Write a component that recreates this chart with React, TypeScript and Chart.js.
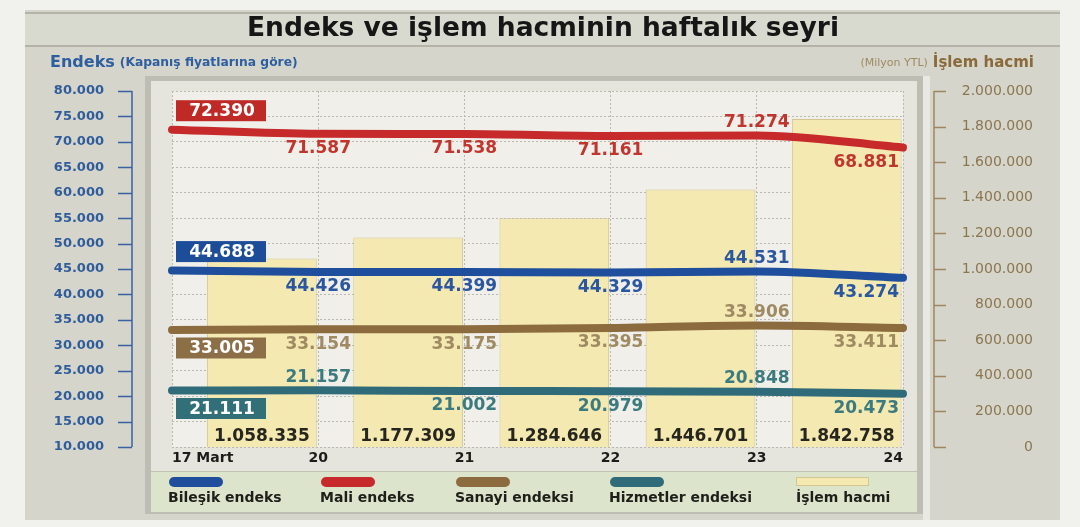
import React, { useEffect, useRef } from 'react';
import { Chart, registerables } from 'chart.js';

Chart.register(...registerables);

// ---------------- data ----------------
const weekLabels = ['17 Mart', '20', '21', '22', '23', '24'];
const bilesikEndeks = [44688, 44426, 44399, 44329, 44531, 43274];
const maliEndeks = [72390, 71587, 71538, 71161, 71274, 68881];
const sanayiEndeksi = [33005, 33154, 33175, 33395, 33906, 33411];
const hizmetlerEndeksi = [21111, 21157, 21002, 20979, 20848, 20473];
const islemHacmi = [1058335, 1177309, 1284646, 1446701, 1842758];
const endeksTicks = [10000, 80000, 5000]; // min, max, step
const hacimTicks = [0, 2000000, 200000]; // min, max, step

const seriesNames = ['Bileşik endeks', 'Mali endeks', 'Sanayi endeksi', 'Hizmetler endeksi', 'İşlem hacmi'];
const chartTitle = 'Endeks ve işlem hacminin haftalık seyri';
const leftTitle = ['Endeks', '(Kapanış fiyatlarına göre)'];
const rightTitle = ['(Milyon YTL)', 'İşlem hacmi'];

// ---------------- styles ----------------
const FONT = "'DejaVu Sans', sans-serif";
const BAR_SHIFT = 0.615;
const LEGEND_X = [168, 320, 455, 609, 796];

const lineStyles = [
  { color: '#1f4e9c', box: '#1d4d98', text: '#2b57a0', place: ['boxAbove', 'below', 'below', 'below', 'above', 'below'] },
  { color: '#c62a2a', box: '#bf2a27', text: '#c0362f', place: ['boxAbove', 'below', 'below', 'below', 'above', 'below'] },
  { color: '#8c6b3e', box: '#8d6f47', text: '#9f8a62', place: ['boxBelow', 'below', 'below', 'below', 'above', 'below'] },
  { color: '#2f6b78', box: '#316f79', text: '#3b7b80', place: ['boxBelow', 'above', 'below', 'below', 'above', 'below'] },
];
const BAR_FILL = '#f4e9b0';
const BAR_BORDER = '#d3c690';

const fmt = (n: number) => Math.round(n).toString().replace(/\B(?=(\d{3})+(?!\d))/g, '.');

const lineSeries = [bilesikEndeks, maliEndeks, sanayiEndeksi, hizmetlerEndeksi];

const backdrop = {
  id: 'backdrop',
  beforeDraw(chart: any) {
    const { ctx, width, height } = chart;
    const ca = chart.chartArea;
    ctx.save();
    ctx.fillStyle = '#f1f1ee';
    ctx.fillRect(0, 0, width, height);
    ctx.fillStyle = '#d5d5cb';
    ctx.fillRect(25, 10, 1035, 510);
    ctx.fillStyle = '#d9dacf';
    ctx.fillRect(25, 13, 1035, 33);
    ctx.strokeStyle = '#b3b3a7';
    ctx.lineWidth = 2;
    ctx.beginPath();
    ctx.moveTo(25, 13); ctx.lineTo(1060, 13);
    ctx.moveTo(25, 46); ctx.lineTo(1060, 46);
    ctx.stroke();
    // gap between inner panel and right axis panel
    ctx.fillStyle = '#e9e9e4';
    ctx.fillRect(923, 76, 7, 444);
    // inner panel frame
    ctx.fillStyle = '#bdbdb3';
    ctx.fillRect(145, 76, 778, 438);
    ctx.fillStyle = '#e5e5de';
    ctx.fillRect(151, 81, 766, 390);
    // plot area
    ctx.fillStyle = '#f0efe9';
    ctx.fillRect(ca.left, ca.top, ca.right - ca.left, ca.bottom - ca.top);
    // legend band
    ctx.fillStyle = '#dce5cb';
    ctx.fillRect(151, 472, 766, 40);
    ctx.strokeStyle = '#bfc4b2';
    ctx.lineWidth = 1;
    ctx.beginPath();
    ctx.moveTo(151, 471.5); ctx.lineTo(917, 471.5);
    ctx.stroke();

    // title
    ctx.fillStyle = '#161616';
    ctx.font = `bold 26.5px ${FONT}`;
    ctx.textAlign = 'center';
    ctx.textBaseline = 'middle';
    ctx.fillText(chartTitle, 543, 29);

    // axis titles
    ctx.textAlign = 'left';
    ctx.fillStyle = '#2d5fa0';
    ctx.font = `bold 16px ${FONT}`;
    ctx.fillText(leftTitle[0], 50, 63);
    const w0 = ctx.measureText(leftTitle[0]).width;
    ctx.font = `bold 12.3px ${FONT}`;
    ctx.fillText(leftTitle[1], 50 + w0 + 5, 63);

    ctx.textAlign = 'right';
    ctx.fillStyle = '#8a6a3a';
    ctx.font = `bold 15px ${FONT}`;
    ctx.fillText(rightTitle[1], 1034, 63);
    const w1 = ctx.measureText(rightTitle[1]).width;
    ctx.fillStyle = '#a08a60';
    ctx.font = `11px ${FONT}`;
    ctx.fillText(rightTitle[0], 1034 - w1 - 5, 63);
    ctx.restore();
  },
};

const overlay = {
  id: 'overlay',
  afterDatasetsDraw(chart: any) {
    const ctx = chart.ctx;
    ctx.save();
    ctx.textBaseline = 'middle';
    chart.data.datasets.forEach((ds: any, di: number) => {
      const meta = chart.getDatasetMeta(di);
      if (ds.type === 'line') {
        const st = lineStyles[di];
        const n = meta.data.length;
        meta.data.forEach((pt: any, i: number) => {
          const val = ds.data[i].y;
          const txt = fmt(val);
          const place = st.place[i];
          ctx.font = `bold 17px ${FONT}`;
          if (place === 'boxAbove' || place === 'boxBelow') {
            const cy = pt.y + (place === 'boxAbove' ? -19 : 18);
            const bx = pt.x + 4;
            ctx.fillStyle = st.box;
            ctx.fillRect(bx, cy - 10.5, 90, 21);
            ctx.fillStyle = '#ffffff';
            ctx.textAlign = 'center';
            ctx.fillText(txt, bx + 46, cy + 1);
          } else {
            const cy = pt.y + (place === 'above' ? -13 : 15);
            ctx.fillStyle = st.text;
            if (i === n - 1) {
              ctx.textAlign = 'right';
              ctx.fillText(txt, pt.x - 4, cy);
            } else {
              ctx.textAlign = 'center';
              ctx.fillText(txt, pt.x, cy);
            }
          }
        });
      } else {
        meta.data.forEach((bar: any, i: number) => {
          ctx.font = `bold 17px ${FONT}`;
          ctx.fillStyle = '#26261f';
          ctx.textAlign = 'center';
          ctx.fillText(fmt(ds.data[i].y), bar.x, bar.base - 10);
        });
      }
    });
    ctx.restore();
  },
  afterDraw(chart: any) {
    const ctx = chart.ctx;
    const y = chart.scales.y;
    const y2 = chart.scales.y2;
    ctx.save();
    ctx.strokeStyle = '#3a62a0';
    ctx.lineWidth = 1.5;
    ctx.beginPath();
    ctx.moveTo(132, y.top);
    ctx.lineTo(132, y.bottom);
    y.ticks.forEach((_t: any, i: number) => {
      const py = Math.round(y.getPixelForTick(i)) + 0.5;
      ctx.moveTo(118, py);
      ctx.lineTo(132, py);
    });
    ctx.stroke();
    ctx.strokeStyle = '#a08660';
    ctx.beginPath();
    ctx.moveTo(934, y2.top);
    ctx.lineTo(934, y2.bottom);
    y2.ticks.forEach((_t: any, i: number) => {
      const py = Math.round(y2.getPixelForTick(i)) + 0.5;
      ctx.moveTo(934, py);
      ctx.lineTo(946, py);
    });
    ctx.stroke();

    // legend
    chart.data.datasets.forEach((ds: any, di: number) => {
      const x = LEGEND_X[di];
      if (ds.type === 'line') {
        ctx.strokeStyle = ds.borderColor;
        ctx.lineWidth = 10;
        ctx.lineCap = 'round';
        ctx.beginPath();
        ctx.moveTo(x + 6, 482);
        ctx.lineTo(x + 50, 482);
        ctx.stroke();
      } else {
        ctx.fillStyle = ds.backgroundColor;
        ctx.strokeStyle = ds.borderColor;
        ctx.lineWidth = 1;
        ctx.fillRect(x, 477, 73, 9);
        ctx.strokeRect(x + 0.5, 477.5, 72, 8);
      }
      ctx.fillStyle = '#1e1e1a';
      ctx.font = `bold 14px ${FONT}`;
      ctx.textAlign = 'left';
      ctx.textBaseline = 'middle';
      ctx.fillText(ds.label, x, 498);
    });
    ctx.restore();
  },
};

export default function App() {
  const ref = useRef<HTMLCanvasElement>(null);

  useEffect(() => {
    const lineDatasets = lineSeries.map((vals, si) => ({
      type: 'line' as const,
      label: seriesNames[si],
      data: vals.map((v, i) => ({ x: i, y: v })),
      yAxisID: 'y',
      borderColor: lineStyles[si].color,
      backgroundColor: lineStyles[si].color,
      borderWidth: 8,
      borderCapStyle: 'round' as const,
      pointRadius: 0,
      cubicInterpolationMode: 'monotone' as const,
      clip: false as const,
      order: 1 + si,
    }));
    const barDataset = {
      type: 'bar' as const,
      label: seriesNames[4],
      data: islemHacmi.map((v, i) => ({ x: i + BAR_SHIFT, y: v })),
      yAxisID: 'y2',
      backgroundColor: BAR_FILL,
      borderColor: BAR_BORDER,
      borderWidth: 1,
      barPercentage: 0.75,
      categoryPercentage: 1,
      order: 10,
    };

    const chart = new Chart(ref.current as HTMLCanvasElement, {
      type: 'line',
      data: { datasets: [...lineDatasets, barDataset] as any },
      plugins: [backdrop, overlay],
      options: {
        responsive: false,
        animation: false,
        events: [],
        layout: { padding: { top: 91, left: 0, right: 47, bottom: 0 } },
        plugins: { legend: { display: false }, tooltip: { enabled: false }, title: { display: false } },
        scales: {
          x: {
            type: 'linear',
            min: 0,
            max: weekLabels.length - 1,
            offset: false,
            afterFit: (s: any) => { s.height = 80; },
            ticks: {
              stepSize: 1,
              autoSkip: false,
              maxRotation: 0,
              align: 'inner',
              padding: 3,
              color: '#1c1c1a',
              font: { family: FONT, size: 14, weight: 'bold' },
              callback: (v: any) => weekLabels[Math.round(Number(v))] ?? '',
            },
            grid: { color: '#b9b9af', lineWidth: 1, drawTicks: false, offset: false },
            border: { display: false, dash: [2, 2] },
          },
          y: {
            type: 'linear',
            position: 'left',
            min: endeksTicks[0],
            max: endeksTicks[1],
            afterFit: (s: any) => { s.width = 172; },
            ticks: {
              stepSize: endeksTicks[2],
              autoSkip: false,
              padding: 68,
              color: '#2f5c9a',
              font: { family: FONT, size: 13, weight: 'bold' },
              callback: (v: any) => fmt(Number(v)),
            },
            grid: { color: '#b9b9af', lineWidth: 1, drawTicks: false },
            border: { display: false, dash: [2, 2] },
          },
          y2: {
            type: 'linear',
            position: 'right',
            min: hacimTicks[0],
            max: hacimTicks[1],
            afterFit: (s: any) => { s.width = 130; },
            ticks: {
              stepSize: hacimTicks[2],
              autoSkip: false,
              crossAlign: 'far',
              color: '#8c7650',
              font: { family: FONT, size: 14 },
              callback: (v: any) => fmt(Number(v)),
            },
            grid: { display: false, drawTicks: false },
            border: { display: false },
          },
        },
      } as any,
    });
    return () => chart.destroy();
  }, []);

  return (
    <div style={{ position: 'fixed', left: 0, top: 0, width: 1080, height: 527 }}>
      <canvas ref={ref} width={1080} height={527} style={{ display: 'block', width: 1080, height: 527 }} />
    </div>
  );
}
